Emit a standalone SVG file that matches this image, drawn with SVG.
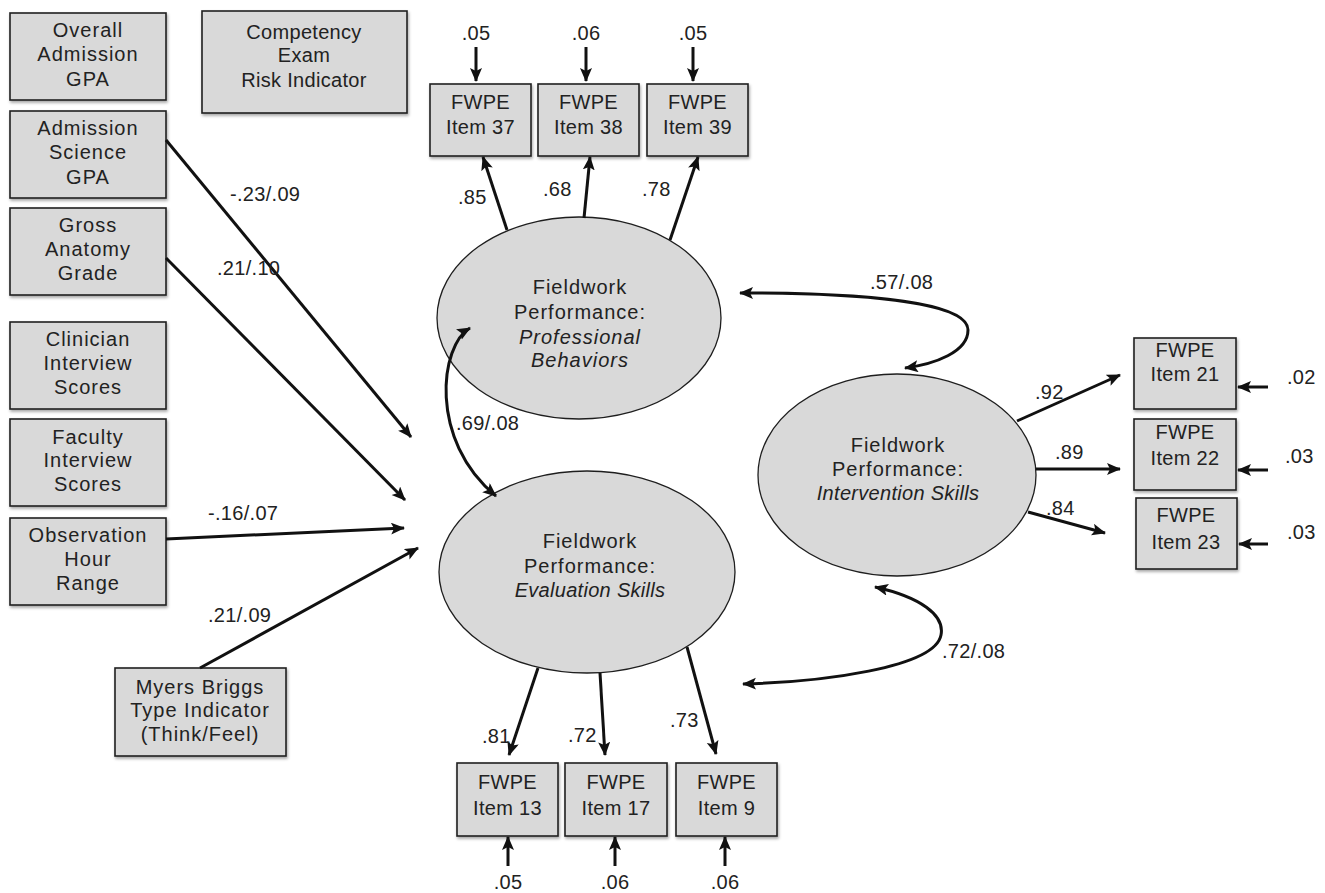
<svg xmlns="http://www.w3.org/2000/svg" width="1325" height="893" viewBox="0 0 1325 893">
<defs>
<style>
.box{fill:#d9d9d9;stroke:#1e1e1e;stroke-width:1.6;filter:url(#sh)}
.ell{fill:#d9d9d9;stroke:#1e1e1e;stroke-width:1.3}
text{font-family:"Liberation Sans",Arial,sans-serif;font-size:20px;fill:#222;letter-spacing:0.3px}
.w{letter-spacing:1px}
.c{text-anchor:middle}
.it{font-style:italic}
.ln{fill:none;stroke:#111;stroke-width:3;marker-end:url(#ah)}
.cv{fill:none;stroke:#111;stroke-width:3;marker-start:url(#ah);marker-end:url(#ah)}
</style>
<filter id="sh" x="-10%" y="-10%" width="130%" height="130%">
<feDropShadow dx="1" dy="2" stdDeviation="1.5" flood-color="#000" flood-opacity="0.35"/>
</filter>
<marker id="ah" markerUnits="userSpaceOnUse" markerWidth="14" markerHeight="13" refX="13" refY="6" orient="auto-start-reverse">
<path d="M0,0 L14,6 L0,12 L3,6 z" fill="#111"/>
</marker>
</defs>
<rect width="1325" height="893" fill="#fff"/>

<g id="overall-gpa"><rect class="box" x="10" y="13" width="156" height="87"/>
<text class="c w" x="88" y="37">Overall</text><text class="c w" x="88" y="61">Admission</text><text class="c w" x="88" y="86">GPA</text></g>
<g id="competency"><rect class="box" x="202" y="11" width="205" height="102"/>
<text class="c" x="304" y="39">Competency</text><text class="c" x="304" y="62">Exam</text><text class="c" x="304" y="87">Risk Indicator</text></g>
<g id="science-gpa"><rect class="box" x="10" y="111" width="156" height="87"/>
<text class="c w" x="88" y="135">Admission</text><text class="c w" x="88" y="159">Science</text><text class="c w" x="88" y="184">GPA</text></g>
<g id="gross-anatomy"><rect class="box" x="10" y="208" width="156" height="87"/>
<text class="c w" x="88" y="232">Gross</text><text class="c w" x="88" y="256">Anatomy</text><text class="c w" x="88" y="280">Grade</text></g>
<g id="clinician"><rect class="box" x="10" y="322" width="156" height="87"/>
<text class="c w" x="88" y="346">Clinician</text><text class="c w" x="88" y="370">Interview</text><text class="c w" x="88" y="394">Scores</text></g>
<g id="faculty"><rect class="box" x="10" y="419" width="156" height="87"/>
<text class="c w" x="88" y="444">Faculty</text><text class="c w" x="88" y="467">Interview</text><text class="c w" x="88" y="491">Scores</text></g>
<g id="observation"><rect class="box" x="10" y="518" width="156" height="87"/>
<text class="c w" x="88" y="542">Observation</text><text class="c w" x="88" y="566">Hour</text><text class="c w" x="88" y="590">Range</text></g>
<g id="myers-briggs"><rect class="box" x="115" y="668" width="171" height="88"/>
<text class="c w" x="200" y="694">Myers Briggs</text><text class="c w" x="200" y="717">Type Indicator</text><text class="c w" x="200" y="741">(Think/Feel)</text></g>

<g id="item37"><rect class="box" x="430" y="84" width="101" height="72"/>
<text class="c" x="480.5" y="109">FWPE</text><text class="c" x="480.5" y="134">Item 37</text></g>
<g id="item38"><rect class="box" x="538" y="84" width="101" height="72"/>
<text class="c" x="588.5" y="109">FWPE</text><text class="c" x="588.5" y="134">Item 38</text></g>
<g id="item39"><rect class="box" x="647" y="84" width="101" height="72"/>
<text class="c" x="697.5" y="109">FWPE</text><text class="c" x="697.5" y="134">Item 39</text></g>

<g id="item21"><rect class="box" x="1134" y="338" width="102" height="71"/>
<text class="c" x="1185" y="357">FWPE</text><text class="c" x="1185" y="381">Item 21</text></g>
<g id="item22"><rect class="box" x="1134" y="419" width="102" height="71"/>
<text class="c" x="1185" y="439">FWPE</text><text class="c" x="1185" y="465">Item 22</text></g>
<g id="item23"><rect class="box" x="1136" y="498" width="101" height="71"/>
<text class="c" x="1186" y="522">FWPE</text><text class="c" x="1186" y="549">Item 23</text></g>

<g id="item13"><rect class="box" x="457" y="763" width="101" height="73"/>
<text class="c" x="507.5" y="789">FWPE</text><text class="c" x="507.5" y="815">Item 13</text></g>
<g id="item17"><rect class="box" x="565" y="763" width="102" height="73"/>
<text class="c" x="616" y="789">FWPE</text><text class="c" x="616" y="815">Item 17</text></g>
<g id="item9"><rect class="box" x="676" y="763" width="101" height="73"/>
<text class="c" x="726.5" y="789">FWPE</text><text class="c" x="726.5" y="815">Item 9</text></g>

<g id="professional-behaviors"><ellipse class="ell" cx="579" cy="318" rx="142" ry="101"/>
<text class="c w" x="580" y="294">Fieldwork</text><text class="c w" x="580" y="319">Performance:</text>
<text class="c it w" x="580" y="344">Professional</text><text class="c it w" x="580" y="367">Behaviors</text></g>
<g id="evaluation-skills"><ellipse class="ell" cx="587" cy="572" rx="148" ry="101"/>
<text class="c w" x="590" y="548">Fieldwork</text><text class="c w" x="590" y="573">Performance:</text>
<text class="c it" x="590" y="597">Evaluation Skills</text></g>
<g id="intervention-skills"><ellipse class="ell" cx="897" cy="475" rx="139" ry="101"/>
<text class="c w" x="898" y="452">Fieldwork</text><text class="c w" x="898" y="476">Performance:</text>
<text class="c it" x="898" y="500">Intervention Skills</text></g>

<g id="connectors">
<path class="ln" d="M166 140 L411 437"/>
<path class="ln" d="M166 258 L405 500"/>
<path class="ln" d="M166 539 L404 528"/>
<path class="ln" d="M200 668 L418 548"/>
<path class="ln" d="M476 47 L476 81"/>
<path class="ln" d="M586 47 L586 81"/>
<path class="ln" d="M693 47 L693 81"/>
<path class="ln" d="M507 230 L483 157"/>
<path class="ln" d="M584 218 L590 157"/>
<path class="ln" d="M670 240 L698 157"/>
<path class="ln" d="M538 668 L509 755"/>
<path class="ln" d="M600 673 L605 755"/>
<path class="ln" d="M687 647 L716 754"/>
<path class="ln" d="M508 866 L508 837"/>
<path class="ln" d="M615 866 L615 837"/>
<path class="ln" d="M725 866 L725 837"/>
<path class="ln" d="M1017 421 L1120 375"/>
<path class="ln" d="M1036 469 L1120 469"/>
<path class="ln" d="M1028 512 L1105 533"/>
<path class="ln" d="M1268 387 L1238 387"/>
<path class="ln" d="M1268 470 L1238 470"/>
<path class="ln" d="M1268 544 L1239 544"/>
<path class="cv" d="M905 368 C935 364 968 352 968 330 C968 300 850 293 740 293"/>
<path class="cv" d="M470 328 C440 345 428 440 496 496"/>
<path class="cv" d="M875 587 C920 597 945 615 941 635 C935 668 820 682 743 684"/>
<text x="230" y="201">-.23/.09</text>
<text x="217" y="275">.21/.10</text>
<text x="208" y="520">-.16/.07</text>
<text x="208" y="622">.21/.09</text>
<text x="458" y="204">.85</text>
<text x="543" y="196">.68</text>
<text x="642" y="196">.78</text>
<text x="870" y="289">.57/.08</text>
<text x="456" y="430">.69/.08</text>
<text x="942" y="658">.72/.08</text>
<text x="1035" y="399">.92</text>
<text x="1055" y="459">.89</text>
<text x="1046" y="515">.84</text>
<text x="1287" y="384">.02</text>
<text x="1285" y="463">.03</text>
<text x="1287" y="539">.03</text>
<text x="482" y="743">.81</text>
<text x="568" y="742">.72</text>
<text x="670" y="727">.73</text>
<text class="c" x="476" y="40">.05</text>
<text class="c" x="586" y="40">.06</text>
<text class="c" x="693" y="40">.05</text>
<text class="c" x="508" y="889">.05</text>
<text class="c" x="615" y="889">.06</text>
<text class="c" x="725" y="889">.06</text>
</g>
</svg>
